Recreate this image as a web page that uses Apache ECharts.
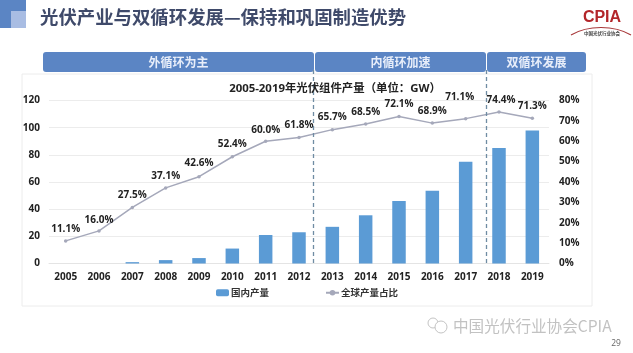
<!DOCTYPE html>
<html>
<head>
<meta charset="utf-8">
<style>
  html, body { margin: 0; padding: 0; background: #fff; }
  #chart { width: 633px; height: 353px; }
</style>
<script src="https://cdn.jsdelivr.net/npm/echarts@6/dist/echarts.min.js"></script>
</head>
<body>
<div id="chart"></div>
<script>
const years = ['2005','2006','2007','2008','2009','2010','2011','2012','2013','2014','2015','2016','2017','2018','2019']
const domestic = [0, 0, 1, 2.5, 4, 11, 21, 23, 27, 35.5, 46, 53.5, 75, 85, 98]
const globalShare = [11.1, 16.0, 27.5, 37.1, 42.6, 52.4, 60.0, 61.8, 65.7, 68.5, 72.1, 68.9, 71.1, 74.4, 71.3]
const labelOffsets = [[0,-3],[0,-2],[0,-4],[0,-3],[0,-5],[0,-4],[0,-2],[0,-4],[0,-4],[0,-3],[0,-4],[0,-3],[-6,-13],[2,-3],[0,-3]]
const leftTicks = [0, 20, 40, 60, 80, 100, 120]
const phases = [
  { name: '外循环为主', x: 43, w: 271 },
  { name: '内循环加速', x: 315, w: 171 },
  { name: '双循环发展', x: 487, w: 99 }
]
const dividers = [313.5, 486.5]

const FONT = '"Open Sans", "Noto Sans CJK SC", sans-serif'
const chart = echarts.init(document.getElementById('chart'))

const phaseBars = phases.flatMap(p => ([
  { type: 'rect', shape: { x: p.x, y: 52, width: p.w, height: 20, r: 3 }, style: { fill: '#5b85c4' } },
  { type: 'text', x: p.x + p.w / 2, y: 62, style: { text: p.name, fill: '#e8eefa', font: 'bold 12px "Noto Sans CJK SC"', align: 'center', verticalAlign: 'middle' } }
]))
const dividerLines = dividers.map(x => ({
  type: 'line', z: 10,
  shape: { x1: x, y1: 70, x2: x, y2: 266 },
  style: { stroke: '#6f8ca3', lineWidth: 1.3, lineDash: [4, 3] }
}))

chart.setOption({
  animation: false,
  backgroundColor: '#fff',
  textStyle: { fontFamily: FONT },
  grid: { left: 49, right: 84, top: 100.5, height: 163 },
  legend: {
    left: 211, top: 283, itemGap: 56, itemWidth: 13, itemHeight: 7,
    textStyle: { fontSize: 9.5, fontWeight: 'bold', color: '#333', fontFamily: '"Noto Sans CJK SC"', padding: [0, 0, 0, -3] },
    data: ['国内产量', '全球产量占比']
  },
  xAxis: {
    type: 'category', data: years,
    axisLine: { lineStyle: { color: '#e4e4e4' } },
    axisTick: { show: false },
    axisLabel: { color: '#222', fontSize: 10, fontWeight: 'bold', margin: 9, interval: 0 }
  },
  yAxis: [
    {
      type: 'value', min: 0, max: leftTicks[leftTicks.length - 1], interval: 20,
      axisLine: { show: false }, axisTick: { show: false },
      axisLabel: { color: '#222', fontSize: 10, fontWeight: 'bold', margin: 9 },
      splitLine: { lineStyle: { color: '#ececec' } }
    },
    {
      type: 'value', min: 0, max: 80, interval: 10,
      axisLine: { show: false }, axisTick: { show: false },
      axisLabel: { color: '#222', fontSize: 10, fontWeight: 'bold', margin: 10, formatter: '{value}%' },
      splitLine: { show: false }
    }
  ],
  series: [
    {
      name: '国内产量', type: 'bar', data: domestic, barWidth: 13.5,
      itemStyle: { color: '#5b9bd5' }
    },
    {
      name: '全球产量占比', type: 'line', yAxisIndex: 1,
      data: globalShare.map((v, i) => ({
        value: v,
        label: { offset: labelOffsets[i] }
      })),
      symbol: 'circle', symbolSize: 3.5,
      lineStyle: { color: '#a5a8ba', width: 1.5 },
      itemStyle: { color: '#a5a8ba' },
      label: {
        show: true, position: 'top', distance: 2,
        color: '#222', fontSize: 10, fontWeight: 'bold',
        formatter: p => p.value.toFixed(1) + '%'
      }
    }
  ],
  graphic: [
    // card behind the plot
    { type: 'rect', z: -1, shape: { x: 22, y: 74, width: 570, height: 232 }, style: { fill: '#fff', stroke: '#ececec', lineWidth: 1 } },
    // corner squares
    { type: 'rect', shape: { x: 0, y: 0, width: 26, height: 28 }, style: { fill: '#5b85c4' } },
    { type: 'rect', shape: { x: 11, y: 11, width: 15, height: 17 }, style: { fill: '#a9bde3' } },
    { type: 'text', x: 40, y: 17, style: { text: '光伏产业与双循环发展—保持和巩固制造优势', fill: '#3f4a6a', font: 'bold 18.4px "Noto Sans CJK SC"', verticalAlign: 'middle' } },
    ...phaseBars,
    ...dividerLines,
    { type: 'text', x: 335, y: 89, z: 11, style: { text: '2005-2019年光伏组件产量（单位：GW）', fill: '#222', font: 'bold 11.4px "Open Sans", "Noto Sans CJK SC"', align: 'center', verticalAlign: 'middle' } },
    // logo
    { type: 'text', x: 602, y: 18, style: { text: 'CPIA', fill: '#b3262a', font: 'bold 16px "Liberation Sans Narrow", "Liberation Sans"', align: 'center', verticalAlign: 'middle' } },
    { type: 'bezierCurve', shape: { x1: 571, y1: 35, cpx1: 588, cpy1: 25, x2: 631, y2: 35, cpx2: 614, cpy2: 25 }, style: { stroke: '#a8383a', lineWidth: 1.2, fill: 'none' } },
    { type: 'text', x: 602, y: 33.5, style: { text: '中国光伏行业协会', fill: '#444', font: 'bold 4.5px "Noto Sans CJK SC"', align: 'center', verticalAlign: 'middle' } },
    // watermark
    { type: 'circle', shape: { cx: 433, cy: 323, r: 5 }, style: { fill: 'none', stroke: '#c4c4c4', lineWidth: 1 } },
    { type: 'circle', shape: { cx: 441, cy: 327, r: 6 }, style: { fill: '#fff', stroke: '#c4c4c4', lineWidth: 1 } },
    { type: 'text', x: 453, y: 326, style: { text: '中国光伏行业协会CPIA', fill: '#c2c2c2', font: '15.6px "Noto Sans CJK SC"', verticalAlign: 'middle' } },
    { type: 'text', x: 616, y: 344, style: { text: '29', fill: '#666', font: '8.5px "Open Sans"', align: 'center', verticalAlign: 'middle' } }
  ]
})
</script>
</body>
</html>
